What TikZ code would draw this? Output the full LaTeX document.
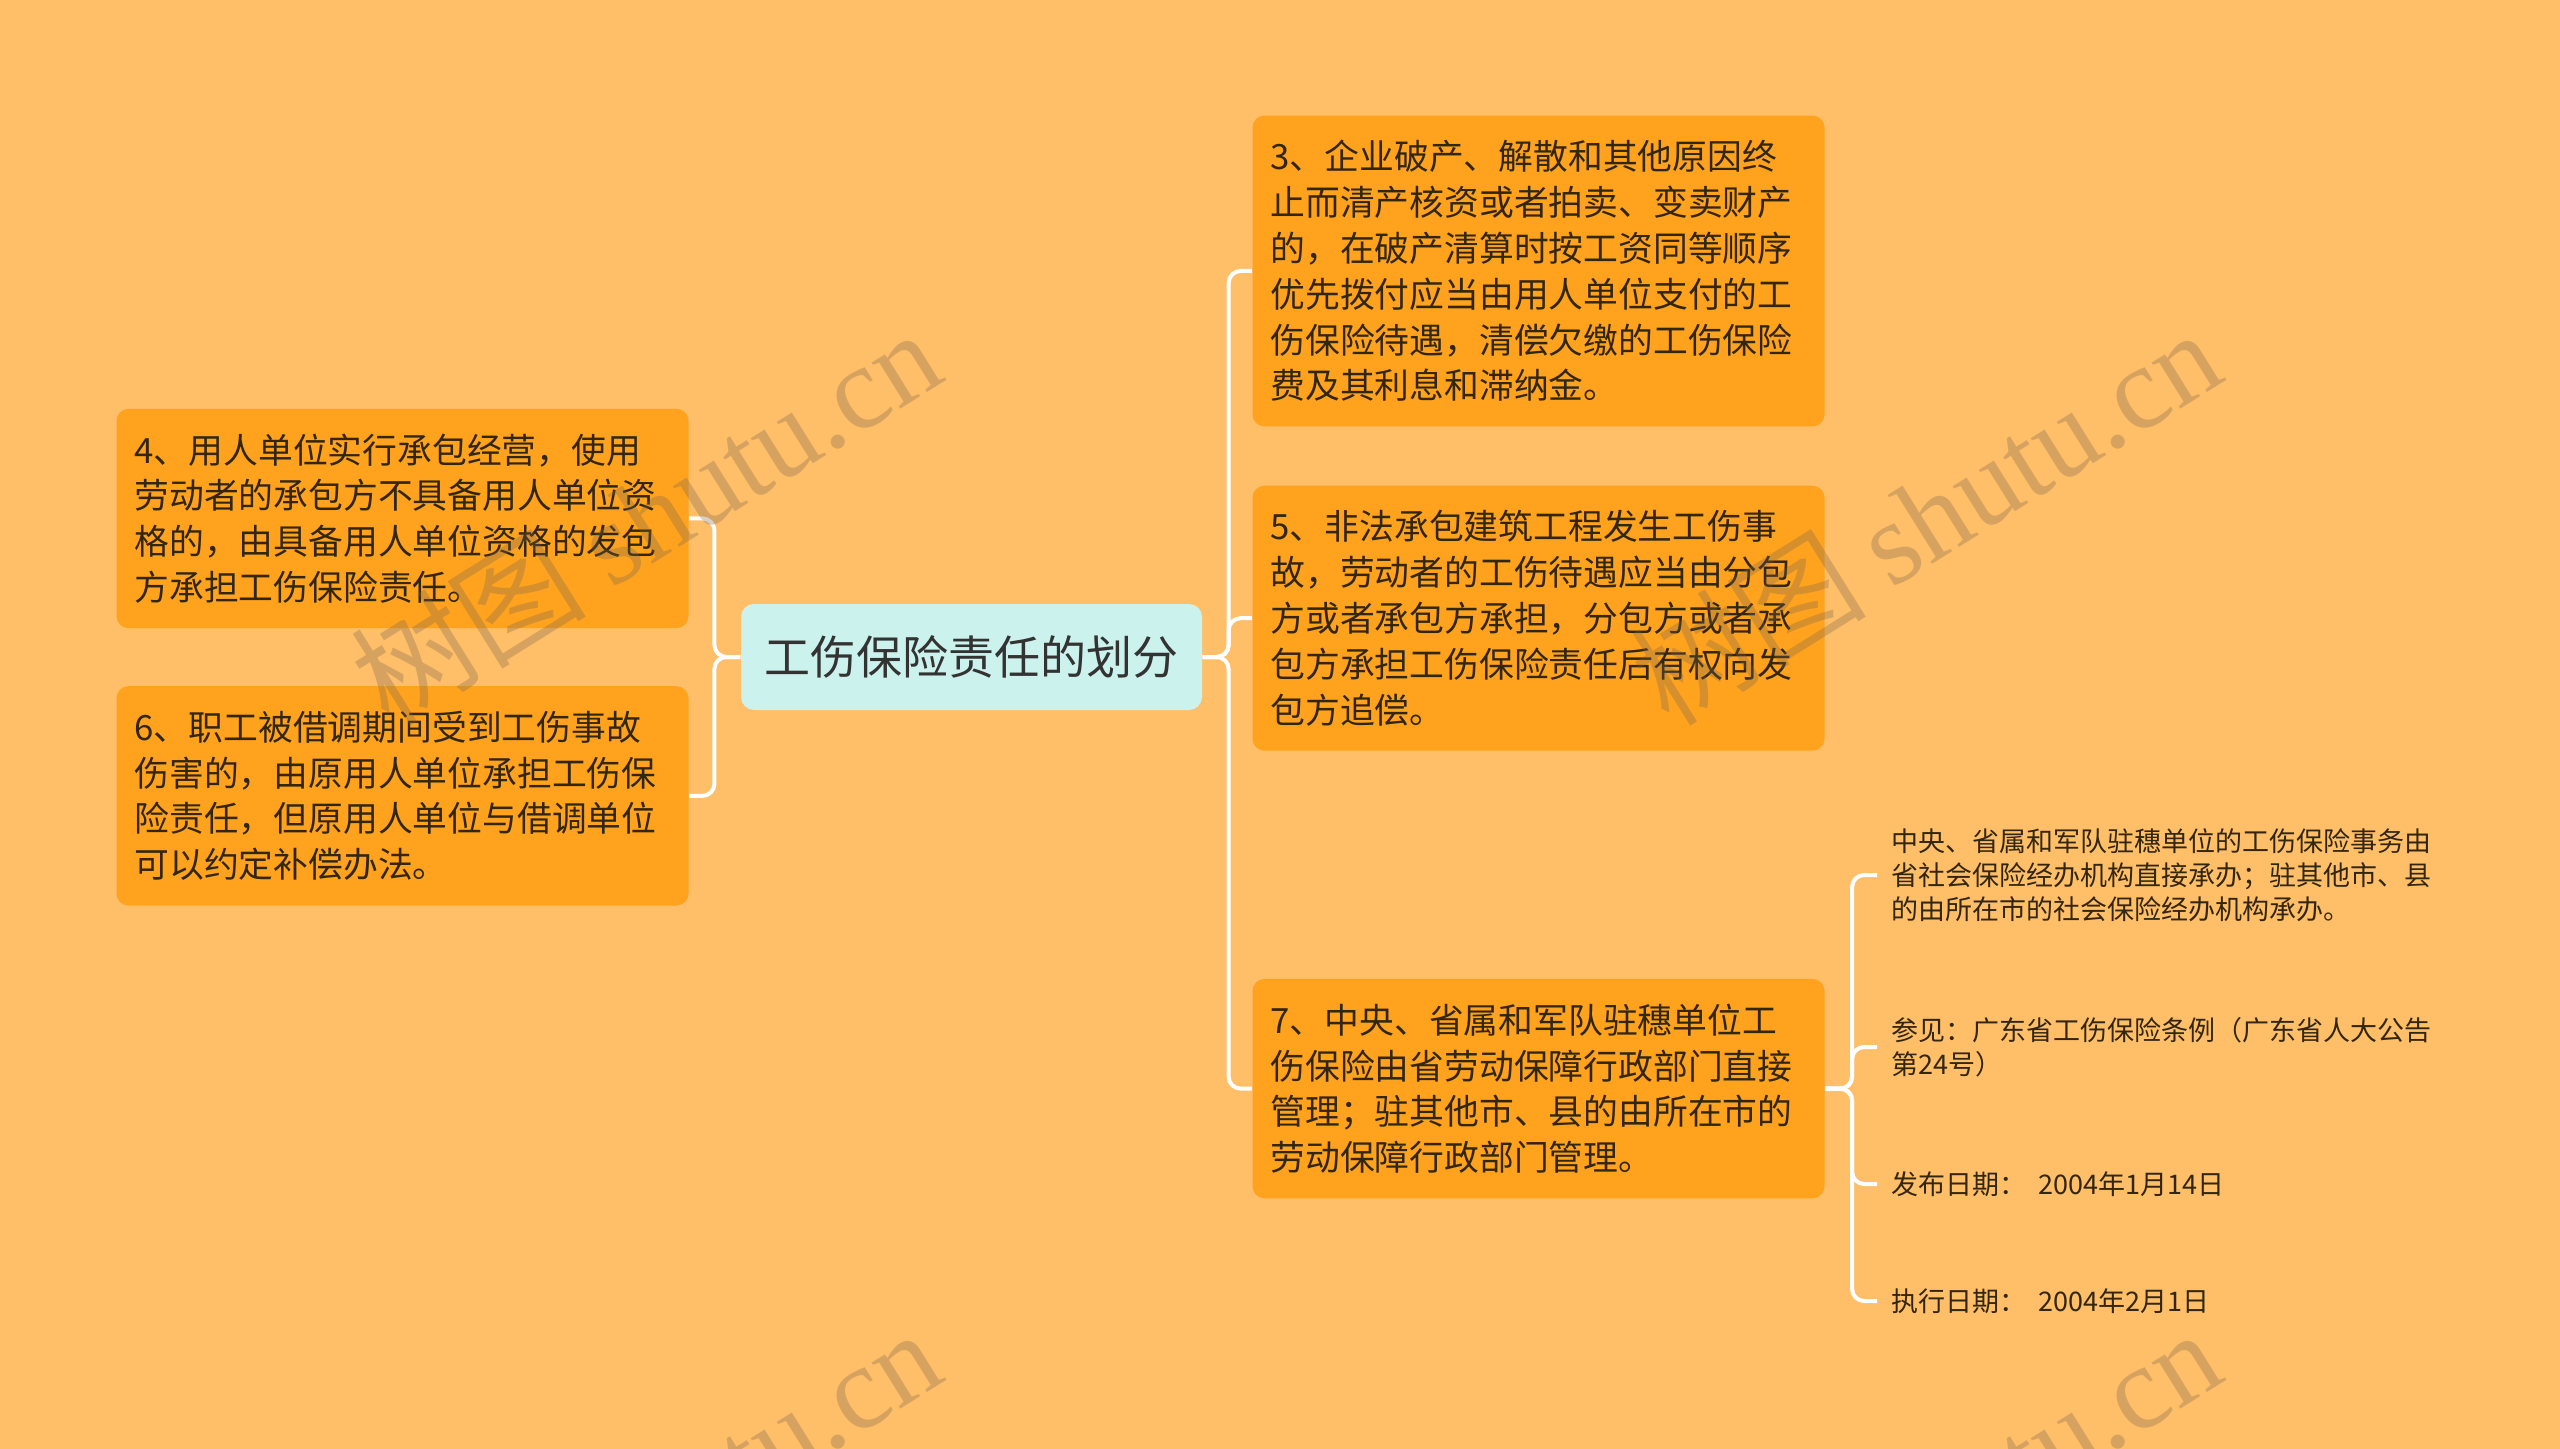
\documentclass[tikz,border=0pt]{standalone}
\usepackage{fontspec}
\setmainfont{Noto Sans CJK SC}
\newfontfamily\wmlatin{Liberation Serif}
\usetikzlibrary{positioning}

\definecolor{bgorange}{HTML}{FFBE68}
\definecolor{boxorange}{HTML}{FFA31F}
\definecolor{hubcyan}{HTML}{CCF2EE}
\definecolor{inktext}{HTML}{33260F}
\definecolor{wmbrown}{RGB}{120,100,80}

\begin{document}
\begin{tikzpicture}[x=0.5pt,y=0.5pt,semithick,node distance=30pt]
		\tikzstyle{topic}=[fill=boxorange,rounded corners=6pt,text=inktext,align=left,
			text width=268pt,inner xsep=9pt,inner ysep=12.4pt,
			font=\fontsize{17.4}{22.9}\selectfont]
		\tikzstyle{hub}=[fill=hubcyan,rounded corners=6.5pt,text=black!80,
			minimum width=230.5pt,minimum height=53pt,font=\fontsize{23}{27}\selectfont]
		\tikzstyle{leaf}=[text=inktext,align=left,anchor=west,inner xsep=7pt,inner ysep=0pt,
			font=\fontsize{13.5}{17}\selectfont]
		\tikzstyle{conn}=[draw=white,line width=2pt,rounded corners=6pt]
		\tikzstyle{wmark}=[rotate=32,text=wmbrown,text opacity=0.3,
			font=\fontsize{59}{62}\selectfont]
		
		\useasboundingbox (0,0) rectangle (2560,-1449);
		\clip (0,0) rectangle (2560,-1449);
		\fill[bgorange] (0,0) rectangle (2560,-1449);
		
		\node[hub]   (hub)                      at (971.5,-657)    {工伤保险责任的划分};
		\node[topic] (t3)                       at (1538.5,-271)   {3、企业破产、解散和其他原因终\\止而清产核资或者拍卖、变卖财产\\的，在破产清算时按工资同等顺序\\优先拨付应当由用人单位支付的工\\伤保险待遇，清偿欠缴的工伤保险\\费及其利息和滞纳金。};
		\node[topic] (t5) [below=29pt of t3]                       {5、非法承包建筑工程发生工伤事\\故，劳动者的工伤待遇应当由分包\\方或者承包方承担，分包方或者承\\包方承担工伤保险责任后有权向发\\包方追偿。};
		\node[topic] (t7) [below=113.5pt of t5]                    {7、中央、省属和军队驻穗单位工\\伤保险由省劳动保障行政部门直接\\管理；驻其他市、县的由所在市的\\劳动保障行政部门管理。};
		\node[topic] (t4)                       at (402.5,-518.5)  {4、用人单位实行承包经营，使用\\劳动者的承包方不具备用人单位资\\格的，由具备用人单位资格的发包\\方承担工伤保险责任。};
		\node[topic] (t6) [below=28.4pt of t4]                     {6、职工被借调期间受到工伤事故\\伤害的，由原用人单位承担工伤保\\险责任，但原用人单位与借调单位\\可以约定补偿办法。};
		
		\node[leaf]  (n1) at (1877,-875)  {中央、省属和军队驻穗单位的工伤保险事务由\\省社会保险经办机构直接承办；驻其他市、县\\的由所在市的社会保险经办机构承办。};
		\node[leaf]  (n2) at (1877,-1047) {参见：广东省工伤保险条例（广东省人大公告\\第24号）};
		\node[leaf]  (n3) at (1877,-1184) {发布日期：\ \ 2004年1月14日};
		\node[leaf]  (n4) at (1877,-1301) {执行日期：\ \ 2004年2月1日};
		
		% brackets
		\draw[conn] (hub.west) -- ++(-26,0) |- (t4.east);
		\draw[conn] (hub.west) -- ++(-26,0) |- (t6.east);
		\draw[conn] (hub.east) -- ++(26,0) |- (t3.west);
		\draw[conn] (hub.east) -- ++(26,0) |- (t5.west);
		\draw[conn] (hub.east) -- ++(26,0) |- (t7.west);
		\foreach \n in {n1,n2,n3,n4}
			\draw[conn] (t7.east) -- ++(27,0) |- (\n.west);
		
		% watermark
		\foreach \wx/\wy in {645/516,1925/516,645/1516,1925/1516}
			\node[wmark] (wm\wx\wy) at (\wx,-\wy) {树图 {\wmlatin shutu.cn}};
\end{tikzpicture}
\end{document}
